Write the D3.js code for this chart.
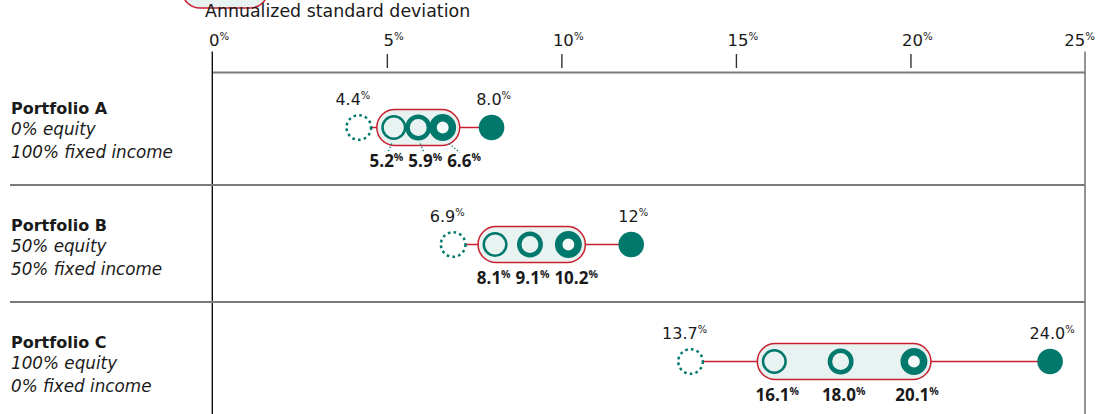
<!DOCTYPE html>
<html>
<head>
<meta charset="utf-8">
<script src="https://cdn.jsdelivr.net/npm/d3@7"></script>
<style>
  html, body { margin: 0; padding: 0; background: #fff; }
  svg { display: block; font-family: "DejaVu Sans", "Open Sans", sans-serif; }
  .bold-num { font-family: "Open Sans", "Noto Sans", sans-serif; }
</style>
</head>
<body>
<svg id="chart" width="1096" height="414"></svg>
<script>
// Risk ranges of three portfolios (annualized standard deviation, %)
const portfolios   = ["Portfolio A", "Portfolio B", "Portfolio C"];
const equityMix    = ["0% equity", "50% equity", "100% equity"];
const fixedMix     = ["100% fixed income", "50% fixed income", "0% fixed income"];
// Outer markers: lowest and highest
const lowValues    = ["4.4", "6.9", "13.7"];
const highValues   = ["8.0", "12", "24.0"];
// Three inner markers inside the band
const innerLow     = ["5.2", "8.1", "16.1"];
const innerMid     = ["5.9", "9.1", "18.0"];
const innerHigh    = ["6.6", "10.2", "20.1"];
const tickValues   = [0, 5, 10, 15, 20, 25];
const axisTitle    = "Annualized standard deviation";

const TEAL = "#00786c", RED = "#c8202f", TINT = "#e8f3f1", INK = "#1a1a1a";

const svg = d3.select("#chart");
const x = d3.scaleLinear().domain([0, 25]).range([212.3, 1085]);
const y = d3.scaleBand().domain(portfolios).range([68, 419]);
const cy = p => y(p) + y.bandwidth() / 2 + 1;

// Number with a small raised percent sign
function pctLabel(g, num, opts) {
  const t = g.append("text")
    .attr("fill", INK)
    .attr("font-size", opts.size)
    .attr("font-weight", opts.bold ? 700 : 400)
    .attr("text-anchor", opts.anchor || "middle");
  if (opts.bold) t.attr("class", "bold-num");
  t.append("tspan").attr("class", "num").text(num);
  t.append("tspan").attr("font-size", "0.62em").attr("dy", "-0.55em")
    .attr("font-weight", opts.bold ? 700 : 400).text("%");
  return t;
}

// Partial legend pill at the very top
svg.append("rect")
  .attr("x", 182).attr("y", -28).attr("width", 86).attr("height", 36).attr("rx", 18)
  .attr("fill", TINT).attr("stroke", RED).attr("stroke-width", 1.5);

svg.append("text")
  .attr("x", 205).attr("y", 17)
  .attr("font-size", 17.4).attr("fill", INK)
  .text(axisTitle);

// Axis: short ticks above a base line
const axis = d3.axisTop(x).tickValues(tickValues.slice(1, -1)).tickSize(14).tickFormat("");
const ag = svg.append("g").attr("transform", "translate(0,68)").call(axis);
ag.select(".domain").remove();
ag.selectAll(".tick line").attr("stroke", "#333").attr("stroke-width", 1.4);

svg.append("line")
  .attr("x1", x(0)).attr("x2", x(25)).attr("y1", 72.5).attr("y2", 72.5)
  .attr("stroke", "#7a7a7a").attr("stroke-width", 2);

// Full-height boundaries at 0% and 25%
svg.append("line")
  .attr("x1", x(0)).attr("x2", x(0)).attr("y1", 51.5).attr("y2", 414)
  .attr("stroke", "#111").attr("stroke-width", 1.4);
svg.append("line")
  .attr("x1", x(25)).attr("x2", x(25)).attr("y1", 51.5).attr("y2", 414)
  .attr("stroke", "#666").attr("stroke-width", 1.4);

// Tick labels
const tl = svg.append("g");
tickValues.forEach((v, i) => {
  const t = pctLabel(tl, String(v), { size: 16.5, anchor: "start" });
  t.attr("y", 46);
  const w = t.select(".num").node().getComputedTextLength();
  if (i === tickValues.length - 1) {
    t.attr("text-anchor", "end").attr("x", x(v) + 10);
  } else {
    t.attr("x", x(v) - w / 2 + 2);
  }
});

// Row separators
portfolios.slice(1).forEach(p => {
  svg.append("line")
    .attr("x1", 10).attr("x2", x(25)).attr("y1", y(p)).attr("y2", y(p))
    .attr("stroke", "#7a7a7a").attr("stroke-width", 2);
});

// Row labels
portfolios.forEach((p, i) => {
  const c = cy(p);
  const g = svg.append("g").attr("fill", INK);
  g.append("text").attr("x", 11).attr("y", c - 14)
    .attr("font-size", 16).attr("font-weight", 700).text(p);
  g.append("text").attr("x", 11).attr("y", c + 7)
    .attr("font-size", 16.8).attr("font-style", "italic").text(equityMix[i]);
  g.append("text").attr("x", 11).attr("y", c + 30)
    .attr("font-size", 16.8).attr("font-style", "italic").text(fixedMix[i]);
});

// Ring styles for the three inner markers
const ringStyles = [
  { r: 11.3, w: 2.5 },
  { r: 10.7, w: 4.5 },
  { r: 9.7,  w: 7.5 }
];

portfolios.forEach((p, i) => {
  const c = cy(p);
  const g = svg.append("g");
  const inner = [innerLow[i], innerMid[i], innerHigh[i]];
  const ix = inner.map(v => x(+v));
  const pad = 17;
  const bandL = ix[0] - pad, bandR = ix[2] + pad;
  // keep the dotted low marker clear of the band
  const lowX = Math.min(x(+lowValues[i]), bandL - 18);
  const highX = x(+highValues[i]);

  g.append("line")
    .attr("x1", lowX).attr("x2", highX).attr("y1", c).attr("y2", c)
    .attr("stroke", RED).attr("stroke-width", 1.5);

  g.append("rect")
    .attr("x", bandL).attr("y", c - 18).attr("width", bandR - bandL).attr("height", 36)
    .attr("rx", 18).attr("fill", TINT).attr("stroke", RED).attr("stroke-width", 1.5);

  g.append("circle").attr("cx", lowX).attr("cy", c).attr("r", 12.3)
    .attr("fill", "#fff").attr("stroke", TEAL).attr("stroke-width", 2.5)
    .attr("stroke-dasharray", "2.6 3.2");

  g.append("circle").attr("cx", highX).attr("cy", c).attr("r", 12.8).attr("fill", TEAL);

  ringStyles.forEach((s, k) => {
    g.append("circle").attr("cx", ix[k]).attr("cy", c).attr("r", s.r)
      .attr("fill", k === 2 ? "#f4faf9" : TINT)
      .attr("stroke", TEAL).attr("stroke-width", s.w);
  });

  // value labels above the outer markers
  pctLabel(g, lowValues[i], { size: 16 }).attr("x", lowX - 6).attr("y", c - 23);
  pctLabel(g, highValues[i], { size: 16 }).attr("x", highX + 2).attr("y", c - 23);

  // bold labels below the inner markers, spread apart when crowded
  const labels = inner.map(v => pctLabel(g, v, { size: 17, bold: true }).attr("y", c + 39));
  const widths = labels.map(t => t.node().getComputedTextLength());
  const pos = ix.map(v => v + 3);
  const gap = 5;
  for (let it = 0; it < 60; it++) {
    for (let k = 1; k < pos.length; k++) {
      const need = widths[k - 1] / 2 + widths[k] / 2 + gap;
      const o = need - (pos[k] - pos[k - 1]);
      if (o > 0.01) { pos[k - 1] -= o / 2; pos[k] += o / 2; }
    }
  }
  const shift = d3.max(pos, (v, k) => Math.abs(v - ix[k] - 3));
  const crowded = shift > 12;
  if (crowded) pos.forEach((v, k) => pos[k] = v + 4);
  labels.forEach((t, k) => t.attr("x", pos[k]));

  // dotted leaders tie displaced labels back to their rings
  if (crowded) {
    ix.forEach((rx, k) => {
      const d = pos[k] - rx;
      g.append("line")
        .attr("x1", rx + d * 0.3).attr("y1", c + 16)
        .attr("x2", rx + d * 0.8).attr("y2", c + 25)
        .attr("stroke", TEAL).attr("stroke-width", 1.3)
        .attr("stroke-dasharray", "1.4 2");
    });
  }
});
</script>
</body>
</html>
